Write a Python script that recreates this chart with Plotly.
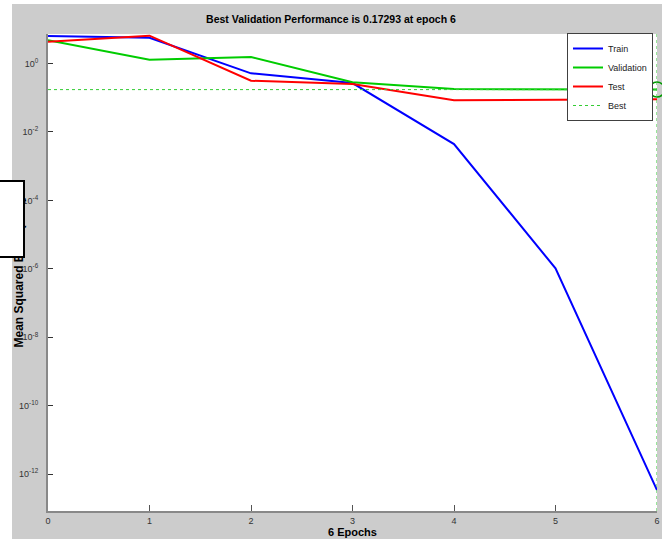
import plotly.graph_objects as go

# ---- data ----
epochs = [0, 1, 2, 3, 4, 5, 6]
train = [6.37, 5.68, 0.517, 0.269, 0.00443, 1.03e-6, 3.4e-13]
validation = [4.77, 1.29, 1.55, 0.282, 0.180, 0.176, 0.17293]
test = [4.34, 6.5, 0.314, 0.251, 0.084, 0.0856, 0.0898]
best_epoch = 6
best_perf = 0.17293
y_tick_exps = [0, -2, -4, -6, -8, -10, -12]
y_range_log = [-13.08, 0.863]

title_text = "Best Validation Performance is 0.17293 at epoch 6"
x_title = "6 Epochs"
y_title = "Mean Squared Error (mse)"

# ---- layout geometry ----
W, H = 662, 539
ML, MR, MT, MB = 48, 5, 34, 28
PW, PH = W - ML - MR, H - MT - MB


def px(xp):
    return (xp - ML) / PW


def py(yp):
    return (H - MB - yp) / PH


FONT = "Liberation Sans Narrow, Arial Narrow, Liberation Sans, Arial, sans-serif"
BLUE, GREEN, RED = "#0000ff", "#00cc00", "#ff0000"

fig = go.Figure()
fig.add_trace(go.Scatter(x=epochs, y=train, mode="lines", name="Train",
                         line=dict(color=BLUE, width=2)))
fig.add_trace(go.Scatter(x=epochs, y=validation, mode="lines", name="Validation",
                         line=dict(color=GREEN, width=2)))
fig.add_trace(go.Scatter(x=epochs, y=test, mode="lines", name="Test",
                         line=dict(color=RED, width=2)))
fig.add_trace(go.Scatter(x=[epochs[0], epochs[-1]], y=[best_perf, best_perf], mode="lines",
                         name="Best", line=dict(color="#33cc33", width=1, dash="dot")))
fig.add_trace(go.Scatter(x=[best_epoch], y=[best_perf], mode="markers", showlegend=False,
                         cliponaxis=False,
                         marker=dict(symbol="circle-open", size=15, color="#009900",
                                     line=dict(width=1.5))))

shapes = [
    # vertical "best" line
    dict(type="line", xref="x", yref="paper", x0=best_epoch, x1=best_epoch, y0=0, y1=1,
         line=dict(color="#33cc33", width=1, dash="dot"), layer="above"),
    # white strips outside the grey figure area
    dict(type="rect", xref="paper", yref="paper", x0=px(0), x1=px(12), y0=py(H), y1=py(0),
         fillcolor="white", line=dict(width=0), layer="below"),
    dict(type="rect", xref="paper", yref="paper", x0=px(0), x1=px(W), y0=py(4), y1=py(0),
         fillcolor="white", line=dict(width=0), layer="below"),
]

annotations = [
    dict(text="<b>" + y_title + "</b>", xref="paper", yref="paper",
         x=px(18), y=0.5, xanchor="center", yanchor="middle", textangle=-90,
         showarrow=False, font=dict(family="Liberation Sans, Arial, sans-serif", size=12, color="#000")),
    # white box overlapping the y-axis title
    dict(text=" ", xref="paper", yref="paper", x=px(-6), y=py(180), xanchor="left", yanchor="top",
         width=27, height=74, bgcolor="white", bordercolor="black", borderwidth=2, borderpad=0,
         showarrow=False),
]

fig.update_layout(
    width=W, height=H,
    margin=dict(l=ML, r=MR, t=MT, b=MB, autoexpand=False),
    paper_bgcolor="#cccccc", plot_bgcolor="white",
    title=dict(text="<b>" + title_text + "</b>", x=px((ML + W - MR) / 2), xanchor="center",
               y=1 - 19 / H, yanchor="middle", font=dict(family=FONT, size=10.5, color="#000")),
    showlegend=True,
    legend=dict(x=px(653), y=py(33), xanchor="right", yanchor="top", bgcolor="white",
                bordercolor="#404040", borderwidth=1, tracegroupgap=0, itemwidth=30,
                font=dict(family=FONT, size=9, color="#222")),
    shapes=shapes, annotations=annotations,
    xaxis=dict(range=[epochs[0], epochs[-1]], tickvals=epochs, ticks="inside", ticklen=6,
               tickcolor="#555", showgrid=False, zeroline=False, showline=True,
               linecolor="#888", linewidth=2,
               tickfont=dict(family=FONT, size=9, color="#333"),
               title=dict(text="<b>" + x_title + "</b>", standoff=1,
                          font=dict(family=FONT, size=11, color="#000"))),
    yaxis=dict(type="log", range=y_range_log,
               tickvals=[10 ** e for e in y_tick_exps],
               ticktext=["10<sup>%d</sup>" % e for e in y_tick_exps],
               ticks="inside", ticklen=5, tickcolor="#333", showgrid=False, zeroline=False,
               showline=True, linecolor="#888", linewidth=2, ticklabelstandoff=6,
               tickfont=dict(family=FONT, size=9, color="#333")),
)

fig.write_html("out.html")
